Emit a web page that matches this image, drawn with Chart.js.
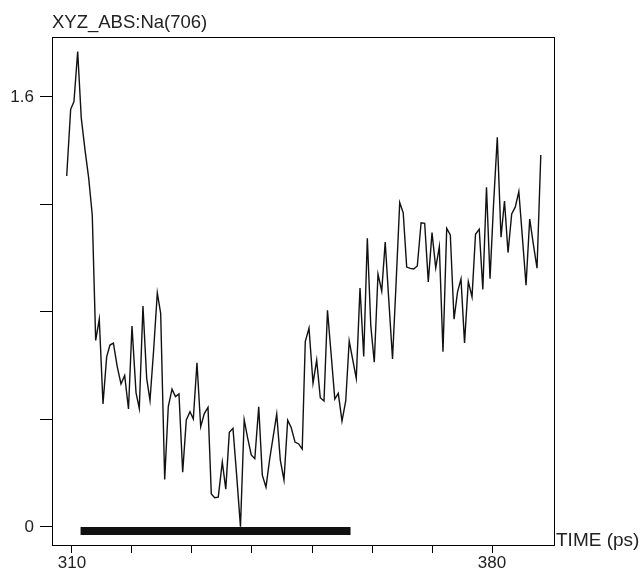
<!DOCTYPE html>
<html>
<head>
<meta charset="utf-8">
<script src="https://cdn.jsdelivr.net/npm/chart.js@4/dist/chart.umd.min.js"></script>
<style>
	html, body { margin: 0; padding: 0; background: #fff; }
	#wrap { width: 644px; height: 575px; }
</style>
</head>
<body>
<div id="wrap"><canvas id="myChart" width="644" height="575"></canvas></div>
<script>
// время, пс (читается с картинки)
const times = [
	309.12, 309.78, 310.33, 310.95, 311.55, 312.17, 312.78, 313.38, 313.95, 314.55,
	315.17, 315.78, 316.33, 316.9, 317.55, 318.17, 318.78, 319.42, 320.0, 320.67,
	321.22, 321.83, 322.45, 323.0, 323.62, 324.22, 324.78, 325.45, 326.05, 326.67,
	327.25, 327.83, 328.45, 329.05, 329.67, 330.22, 330.83, 331.45, 332.05, 332.67,
	333.22, 333.78, 334.38, 335.05, 335.63, 336.22, 336.83, 337.45, 338.08, 338.7,
	339.28, 339.88, 340.47, 341.12, 341.72, 342.33, 342.95, 343.55, 344.12, 344.72,
	345.33, 345.95, 346.53, 347.17, 347.78, 348.37, 348.88, 349.5, 350.17, 350.78,
	351.38, 352.0, 352.58, 353.2, 353.8, 354.38, 355.0, 355.62, 356.2, 356.8,
	357.38, 358.0, 358.62, 359.22, 359.8, 360.38, 361.0, 361.62, 362.2, 362.8,
	363.42, 364.03, 364.62, 365.2, 365.78, 366.37, 366.95, 367.55, 368.18, 368.78,
	369.38, 370.0, 370.62, 371.22, 371.83, 372.45, 373.05, 373.67, 374.25, 374.83,
	375.42, 376.05, 376.67, 377.25, 377.87, 378.47, 379.08, 379.67, 380.25, 380.88,
	381.5, 382.08, 382.67, 383.28, 383.87, 384.47, 385.07, 385.67, 386.28, 386.88,
	387.5, 388.13
];

// XYZ_ABS для Na(706)
const values = [
	1.306, 1.554, 1.583, 1.769, 1.521, 1.403, 1.299, 1.161, 0.694, 0.773,
	0.458, 0.633, 0.677, 0.684, 0.596, 0.532, 0.564, 0.439, 0.748, 0.5,
	0.441, 0.822, 0.553, 0.471, 0.662, 0.871, 0.795, 0.177, 0.448, 0.513,
	0.485, 0.495, 0.204, 0.398, 0.429, 0.402, 0.611, 0.373, 0.422, 0.445,
	0.123, 0.109, 0.111, 0.242, 0.141, 0.352, 0.367, 0.19, 0.001, 0.399,
	0.331, 0.268, 0.254, 0.447, 0.193, 0.148, 0.253, 0.339, 0.42, 0.249,
	0.175, 0.397, 0.37, 0.316, 0.309, 0.29, 0.69, 0.74, 0.535, 0.621,
	0.481, 0.469, 0.806, 0.64, 0.476, 0.497, 0.394, 0.469, 0.692, 0.621,
	0.553, 0.889, 0.634, 1.074, 0.748, 0.613, 0.941, 0.878, 1.06, 0.843,
	0.625, 0.915, 1.207, 1.169, 0.967, 0.962, 0.96, 0.971, 1.132, 1.13,
	0.912, 1.095, 0.964, 1.043, 0.652, 1.111, 1.087, 0.773, 0.874, 0.923,
	0.685, 0.913, 0.856, 1.089, 1.108, 0.884, 1.264, 0.924, 1.198, 1.45,
	1.078, 1.213, 1.021, 1.165, 1.19, 1.248, 1.075, 0.9, 1.146, 1.053,
	0.963, 1.384
];

// толстая полоса у нуля (интервал)
const barTimes = [311.43, 356.42];
const barLevel = -0.015;

const yTicks = [0, 0.4, 0.8, 1.2, 1.6];
const yLabels = ["0", "", "", "", "1.6"];
const xTicks = [310, 320, 330, 340, 350, 360, 370, 380];
const xLabels = ["310", "", "", "", "", "", "", "380"];

const FONT = "'Liberation Sans', Arial, Helvetica, sans-serif";

const frame = {
	id: "frame",
	afterDraw(chart) {
		const { ctx, chartArea: a } = chart;
		ctx.save();
		ctx.strokeStyle = "#000";
		ctx.lineWidth = 1;
		ctx.strokeRect(a.left + 0.5, a.top + 0.5, a.right - a.left, a.bottom - a.top);
		ctx.fillStyle = "#222";
		ctx.textBaseline = "alphabetic";
		ctx.textAlign = "left";
		ctx.font = "18.5px " + FONT;
		ctx.fillText("XYZ_ABS:Na(706)", a.left, 28);
		ctx.font = "19px " + FONT;
		ctx.fillText("TIME (ps)", a.right + 2, a.bottom + 1);
		ctx.restore();
	},
};

const ctx = document.getElementById("myChart");

new Chart(ctx, {
	type: "line",
	data: {
		datasets: [
			{
				data: times.map((t, i) => ({ x: t, y: values[i] })),
				borderColor: "#111",
				borderWidth: 1.4,
				pointRadius: 0,
				tension: 0,
				fill: false,
			},
			{
				data: barTimes.map((t) => ({ x: t, y: barLevel })),
				borderColor: "#111",
				borderWidth: 8,
				borderCapStyle: "butt",
				pointRadius: 0,
				fill: false,
			},
		],
	},
	options: {
		responsive: false,
		animation: false,
		layout: { padding: { top: 37, right: 90, bottom: 0, left: 0 } },
		plugins: {
			legend: { display: false },
			title: { display: false },
			tooltip: { enabled: false },
		},
		scales: {
			x: {
				type: "linear",
				min: 306.67,
				max: 390.33,
				afterBuildTicks: (axis) => {
					axis.ticks = xTicks.map((v) => ({ value: v }));
				},
				afterFit: (axis) => {
					axis.height = 30;
				},
				ticks: {
					autoSkip: false,
					maxRotation: 0,
					padding: 0,
					color: "#222",
					font: { family: FONT, size: 17 },
					callback: (v) => {
						const i = xTicks.indexOf(v);
						return i >= 0 ? xLabels[i] : "";
					},
				},
				grid: {
					drawOnChartArea: false,
					drawTicks: true,
					tickLength: 8,
					color: "#000",
				},
				border: { display: true, color: "#000" },
			},
			y: {
				min: -0.067,
				max: 1.823,
				afterBuildTicks: (axis) => {
					axis.ticks = yTicks.map((v) => ({ value: v }));
				},
				afterFit: (axis) => {
					axis.width = 52;
				},
				ticks: {
					autoSkip: false,
					padding: 6,
					color: "#222",
					font: { family: FONT, size: 17 },
					callback: (v) => {
						const i = yTicks.findIndex((t) => Math.abs(t - v) < 1e-6);
						return i >= 0 ? yLabels[i] : "";
					},
				},
				grid: {
					drawOnChartArea: false,
					drawTicks: true,
					tickLength: 12,
					color: "#000",
				},
				border: { display: true, color: "#000" },
			},
		},
	},
	plugins: [frame],
});
</script>
</body>
</html>
